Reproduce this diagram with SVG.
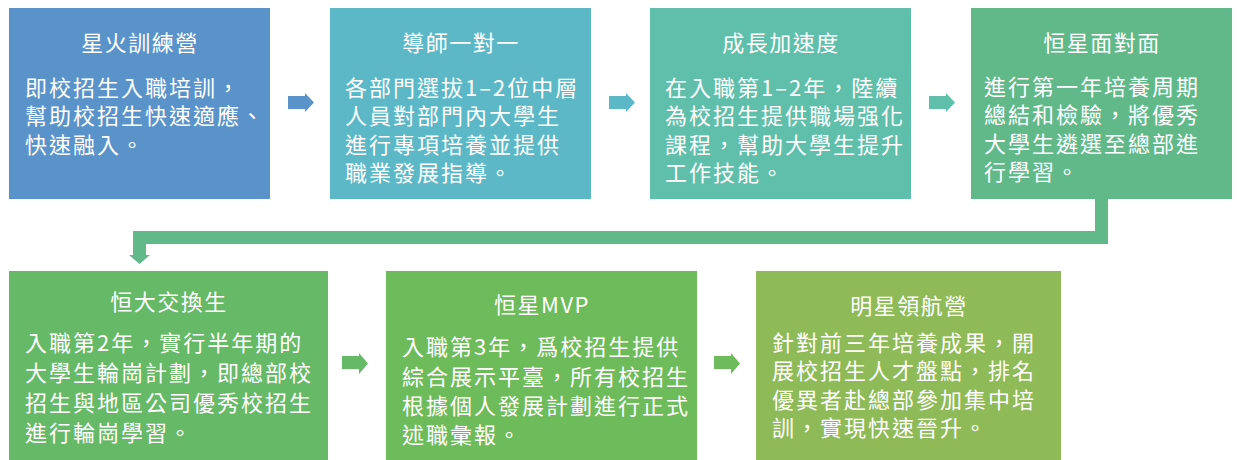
<svg xmlns="http://www.w3.org/2000/svg" width="1237" height="460" viewBox="0 0 1237 460">
<style>
text{font-family:"Noto Sans CJK TC","Noto Sans CJK SC",sans-serif;fill:#fff;font-size:22px}
.t{text-anchor:middle;letter-spacing:1.5px}
.b{letter-spacing:2px}
</style>
<rect width="1237" height="460" fill="#fff"/>
<g id="connectors">
<polygon points="288,96 305,96 305,93 314,102.5 305,112 305,109 288,109" fill="#5A93C9"/>
<polygon points="609,96 626,96 626,93 635,102.5 626,112 626,109 609,109" fill="#5CB8C7"/>
<polygon points="929,96 946,96 946,93 955,102.5 946,112 946,109 929,109" fill="#60BFAB"/>
<polygon points="1095,199 1108,199 1108,244 146,244 146,255 150,255 139.5,264 129,255 133,255 133,231 1095,231" fill="#61B98A"/>
<polygon points="342,356 359,356 359,353 368,363.5 359,374 359,369 342,369" fill="#66B966"/>
<polygon points="714,356 731,356 731,353 740,363.5 731,374 731,369 714,369" fill="#6EBB5B"/>
</g>
<g id="n1">
<rect x="9" y="8" width="261" height="191" fill="#5A93C9"/>
<text class="t" x="140" y="50.5">星火訓練營</text>
<text class="b" x="25" y="96">即校招生入職培訓，</text>
<text class="b" x="25" y="124.3">幫助校招生快速適應、</text>
<text class="b" x="25" y="152.6">快速融入。</text>
</g>
<g id="n2">
<rect x="330" y="8" width="261" height="191" fill="#5CB8C7"/>
<text class="t" x="461" y="50.5">導師一對一</text>
<text class="b" x="345" y="96">各部門選拔1–2位中層</text>
<text class="b" x="345" y="124.3">人員對部門內大學生</text>
<text class="b" x="345" y="152.6">進行專項培養並提供</text>
<text class="b" x="345" y="181">職業發展指導。</text>
</g>
<g id="n3">
<rect x="650" y="8" width="261" height="191" fill="#60BFAB"/>
<text class="t" x="781" y="50.5">成長加速度</text>
<text class="b" x="665" y="96">在入職第1–2年，陸續</text>
<text class="b" x="665" y="124.3">為校招生提供職場强化</text>
<text class="b" x="665" y="152.6">課程，幫助大學生提升</text>
<text class="b" x="665" y="181">工作技能。</text>
</g>
<g id="n4">
<rect x="971" y="8" width="261" height="191" fill="#61B98A"/>
<text class="t" x="1102" y="50.5">恒星面對面</text>
<text class="b" x="984" y="95">進行第一年培養周期</text>
<text class="b" x="984" y="123.3">總結和檢驗，將優秀</text>
<text class="b" x="984" y="151.6">大學生遴選至總部進</text>
<text class="b" x="984" y="180">行學習。</text>
</g>
<g id="n5">
<rect x="9" y="271" width="319" height="189" fill="#66B966"/>
<text class="t" x="169" y="310">恒大交換生</text>
<text class="b" x="25" y="351.4">入職第2年，實行半年期的</text>
<text class="b" x="25" y="381.1">大學生輪崗計劃，即總部校</text>
<text class="b" x="25" y="410.8">招生與地區公司優秀校招生</text>
<text class="b" x="25" y="440.5">進行輪崗學習。</text>
</g>
<g id="n6">
<rect x="386" y="271" width="311" height="189" fill="#6EBB5B"/>
<text class="t" x="542" y="312.5">恒星MVP</text>
<text class="b" x="402" y="355">入職第3年，爲校招生提供</text>
<text class="b" x="402" y="384.5">綜合展示平臺，所有校招生</text>
<text class="b" x="402" y="414">根據個人發展計劃進行正式</text>
<text class="b" x="402" y="443">述職彙報。</text>
</g>
<g id="n7">
<rect x="756" y="271" width="305" height="189" fill="#8EBB58"/>
<text class="t" x="909" y="313.5">明星領航營</text>
<text class="b" x="772" y="350.5">針對前三年培養成果，開</text>
<text class="b" x="772" y="379">展校招生人才盤點，排名</text>
<text class="b" x="772" y="407.5">優異者赴總部參加集中培</text>
<text class="b" x="772" y="436">訓，實現快速晉升。</text>
</g>
</svg>
